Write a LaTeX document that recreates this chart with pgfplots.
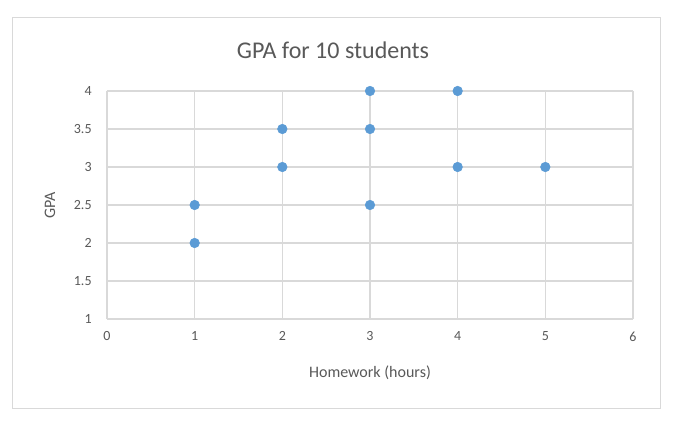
\documentclass[border=0pt]{standalone}
\usepackage{pgfplots}
\pgfplotsset{compat=1.18}
\usepackage{fontspec}
\setmainfont{Carlito}
\definecolor{pt}{HTML}{5B9BD5}
\definecolor{gr}{HTML}{D9D9D9}
\definecolor{tx}{HTML}{595959}
\begin{document}
\begin{tikzpicture}
\useasboundingbox (-80.25pt,-79.5pt) rectangle (426.75pt,239.25pt);
\fill[white] (-80.25pt,-79.5pt) rectangle (426.75pt,239.25pt);
\draw[gr] (-71.25pt,-66.75pt) rectangle (414.75pt,226.5pt);
\begin{axis}[at={(0,0)},anchor=south west,scale only axis,
 width=394.5pt,height=171pt,
 xmin=0,xmax=6,ymin=1,ymax=4,
 xtick={0,...,6},ytick={1,1.5,...,4},
 yticklabels={1,1.5,2,2.5,3,3.5,4},
 grid=major,grid style={gr,line width=0.8pt},
 axis line style={draw=none},major tick length=0pt,
 tick label style={tx,font=\fontsize{10.5}{12}\selectfont},
 xticklabel style={yshift=-6pt},
 yticklabel style={xshift=-8pt},
 /pgf/number format/assume math mode=true,
 clip=false]
\draw[gr,line width=0.8pt] (axis cs:0,1) -- (axis cs:6,1);
\addplot[only marks,mark=*,mark size=3.6pt,color=pt] coordinates {
(1,2) (1,2.5) (2,3) (2,3.5) (3,2.5) (3,3.5) (3,4) (4,3) (4,4) (5,3)};
\end{axis}
\node[tx,font=\fontsize{18}{22}\selectfont] at (169.5pt,201.75pt) {GPA for 10 students};
\node[tx,font=\fontsize{12}{14}\selectfont] at (197.25pt,-40.5pt) {Homework (hours)};
\node[tx,font=\fontsize{12}{14}\selectfont,rotate=90] at (-42.75pt,85.5pt) {GPA};
\end{tikzpicture}
\end{document}
